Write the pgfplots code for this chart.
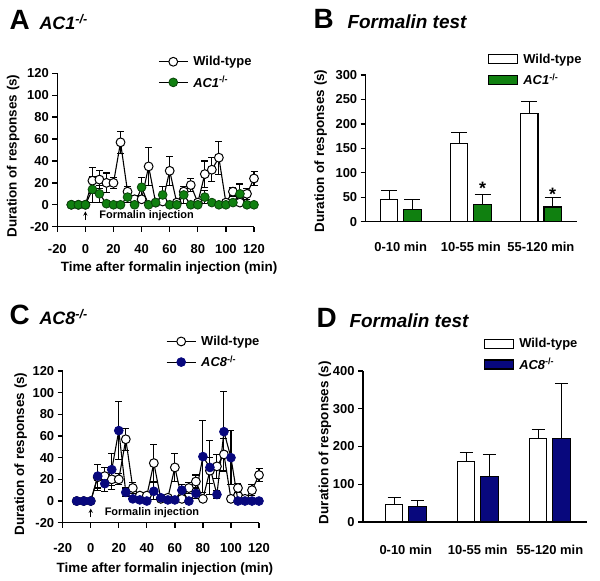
\documentclass[border=0pt]{standalone}
\usepackage{pgfplots}
\usepackage{pgfplotstable}
\pgfplotsset{compat=1.18}
\usepackage{fontspec}
\setmainfont{Liberation Sans}

\definecolor{acgreen}{RGB}{16,128,16}
\definecolor{acgreendk}{RGB}{10,70,10}
\definecolor{acblue}{RGB}{8,8,125}

\newcommand{\ko}{\textsuperscript{-/-}}

% time course, wild-type (shared by A and C)
\pgfplotstableread{
t y e
-10 0 0
-5 0 0
0 0 0
5 22 12
10 23 8
15 20 9
20 20 5
25 57 10
30 12 5
35 5 3
40 5 3
45 35 17
50 2 2
55 3 2
60 31 13
65 2 2
70 12 5
75 18 6
80 2 2
85 28 12
90 32 11
95 43 15
100 2 2
105 12 4
110 2 2
115 10 5
120 24 6
}\wtdata

\pgfplotstableread{
t y e
-10 0 0
-5 0 0
0 0 0
5 14 12
10 10 8
15 1 1
20 0 0
25 0 0
30 7 5
35 0 0
40 16 9
45 0 0
50 2 2
55 9 8
60 0 0
65 0 0
70 9 8
75 0 0
80 0 0
85 7 6
90 2 2
95 0 0
100 0 0
105 2 3
110 10 9
115 0 0
120 0 0
}\acone

\pgfplotstableread{
t y e
-10 0 0
-5 0 0
0 0 0
5 23 11
10 16 7
15 29 15
20 65 27
25 8 4
30 2 2
35 1 1
40 0 0
45 9 8
50 3 2
55 1 1
60 1 1
65 10 5
70 0 0
75 7 5
80 41 33
85 31 25
90 6 4
95 64 37
100 40 25
105 0 0
110 0 0
115 0 0
120 0 0
}\aceight

% bars: group, WT mean, WT sem, KO mean, KO sem
\pgfplotstableread{
g wt wte ko koe
0 46 17 25 21
1 159 24 36 20
2 221 24 30 19
}\bardataB

\pgfplotstableread{
g wt wte ko koe
0 46 19 40 16
1 160 23 120 58
2 222 24 222 144
}\bardataD

\pgfplotsset{
  prism/.style={
    scale only axis,
    axis x line=bottom, axis y line=left,
    axis line style={-, line width=1.5pt},
    tick align=outside, major tick length=5bp,
    tick style={line width=1.3pt, black},
    /pgf/number format/assume math mode=true,
    tick label style={font=\fontsize{13}{15}\selectfont\bfseries},
    label style={font=\fontsize{13.5}{15}\selectfont\bfseries},
    clip=false,
    legend cell align=left,
    legend style={draw=none, fill=none, inner sep=0pt,
      font=\fontsize{13}{15}\selectfont\bfseries, row sep=5bp, column sep=3bp},
  },
  timeaxis/.style={prism,
    xmin=-20, xmax=120, ymin=-20, ymax=120,
    xtick={-20,0,...,120}, ytick={-20,0,...,120},
    legend image code/.code={\draw[mark repeat=2,mark phase=2,##1]
      plot coordinates {(0bp,0bp) (14.5bp,0bp) (29bp,0bp)};},
  },
  baraxis/.style={prism,
    ybar=6bp, bar width=17.3bp,
    xtick=data, xtick style={draw=none},
    xticklabels={0-10 min, 10-55 min, 55-120 min},
    ymin=0,
  },
  barlegend/.style={legend image code/.code={\draw[##1] (0bp,-4.5bp) rectangle (29bp,4.5bp);}},
  line/.style={black, line width=1.1pt, mark=*, mark size=4.4bp,
    error bars/y dir=both, error bars/y explicit,
    error bars/error bar style={line width=1.1pt, black},
    error bars/error mark options={rotate=90, mark size=3.5bp, line width=1.1pt, black}},
  bar/.style={draw=black, line width=1.1pt, barlegend,
    error bars/y dir=plus, error bars/y explicit,
    error bars/error bar style={line width=1.1pt, black},
    error bars/error mark options={rotate=90, mark size=#1, line width=1.1pt, black}},
}

\begin{document}
\begin{tikzpicture}
\useasboundingbox (0,0) rectangle (600bp,581bp);

% panel titles
\node[anchor=base west, font=\fontsize{28}{30}\selectfont\bfseries] at (6bp,551.7bp) {A};
\node[anchor=base west, font=\fontsize{18}{20}\selectfont\bfseries\itshape] at (36bp,551.7bp) {AC1\ko};
\node[anchor=base west, font=\fontsize{28}{30}\selectfont\bfseries] at (310bp,552.7bp) {B};
\node[anchor=base west, font=\fontsize{19}{21}\selectfont\bfseries\itshape] at (344bp,552.7bp) {Formalin test};
\node[anchor=base west, font=\fontsize{28}{30}\selectfont\bfseries] at (6bp,256bp) {C};
\node[anchor=base west, font=\fontsize{18}{20}\selectfont\bfseries\itshape] at (36bp,256bp) {AC8\ko};
\node[anchor=base west, font=\fontsize{28}{30}\selectfont\bfseries] at (313bp,253bp) {D};
\node[anchor=base west, font=\fontsize{19}{21}\selectfont\bfseries\itshape] at (346bp,253bp) {Formalin test};

% A
\begin{axis}[timeaxis, at={(57.3bp,354.3bp)}, anchor=south west,
  width=196.7bp, height=153.4bp,
  xticklabel style={yshift=-9bp},
  xlabel={Time after formalin injection (min)},
  ylabel={Duration of responses (s)},
  xlabel style={at={(axis description cs:0.568,-0.267)}, anchor=center},
  ylabel style={at={(axis description cs:-0.224,0.461)}, anchor=center},
  legend style={at={(axis description cs:0.512,1.125)}, anchor=north west}]
\addplot[line, mark options={fill=white, draw=black, line width=1pt}]
  table[x=t, y=y, y error=e] {\wtdata};
\addlegendentry{Wild-type}
\addplot[line, mark options={fill=acgreen, draw=acgreendk, line width=0.8pt}]
  table[x=t, y=y, y error=e] {\acone};
\addlegendentry{\textit{AC1}\ko}
\draw[-stealth, line width=0.9pt] (axis cs:0,-14) -- (axis cs:0,-6);
\node[anchor=west, font=\fontsize{11}{12}\selectfont\bfseries] at (axis cs:7.5,-10) {Formalin injection};
\end{axis}

% B
\begin{axis}[baraxis, at={(365.7bp,359.3bp)}, anchor=south west,
  width=211bp, height=146.7bp,
  xmin=-0.5, xmax=2.51, ymax=300, ytick={0,50,...,300},
  xticklabel style={yshift=-12bp},
  ylabel={Duration of responses (s)},
  ylabel style={at={(axis description cs:-0.213,0.482)}, anchor=center},
  legend style={at={(axis description cs:0.58,1.16)}, anchor=north west}]
\addplot[bar=8bp, fill=white] table[x=g, y=wt, y error=wte] {\bardataB};
\addlegendentry{Wild-type}
\addplot[bar=8bp, fill=acgreen] table[x=g, y=ko, y error=koe] {\bardataB};
\addlegendentry{\textit{AC1}\ko}
\node[font=\fontsize{18}{18}\selectfont\bfseries, xshift=11.65bp, yshift=-4bp] at (axis cs:1,77) {*};
\node[font=\fontsize{18}{18}\selectfont\bfseries, xshift=11.65bp, yshift=-4bp] at (axis cs:2,65) {*};
\end{axis}

% C
\begin{axis}[timeaxis, at={(62.7bp,58.3bp)}, anchor=south west,
  width=196.3bp, height=151.7bp,
  xticklabel style={yshift=-12bp},
  xlabel={Time after formalin injection (min)},
  ylabel={Duration of responses (s)},
  xlabel style={at={(axis description cs:0.521,-0.307)}, anchor=center},
  ylabel style={at={(axis description cs:-0.214,0.453)}, anchor=center},
  legend style={at={(axis description cs:0.526,1.245)}, anchor=north west}]
\addplot[line, mark options={fill=white, draw=black, line width=1pt}]
  table[x=t, y=y, y error=e] {\wtdata};
\addlegendentry{Wild-type}
\addplot[line, mark options={fill=acblue, draw=acblue, line width=0.8pt}]
  table[x=t, y=y, y error=e] {\aceight};
\addlegendentry{\textit{AC8}\ko}
\draw[-stealth, line width=0.9pt] (axis cs:0,-15) -- (axis cs:0,-7);
\node[anchor=west, font=\fontsize{11}{12}\selectfont\bfseries] at (axis cs:7.5,-11) {Formalin injection};
\end{axis}

% D
\begin{axis}[baraxis, at={(363bp,59bp)}, anchor=south west,
  width=224bp, height=151bp,
  xmin=-0.594, xmax=2.517, ymax=400, ytick={0,100,...,400},
  xticklabel style={yshift=-15bp},
  ylabel={Duration of responses (s)},
  ylabel style={at={(axis description cs:-0.17,0.526)}, anchor=center},
  legend style={at={(axis description cs:0.54,1.23)}, anchor=north west}]
\addplot[bar=6.5bp, fill=white] table[x=g, y=wt, y error=wte] {\bardataD};
\addlegendentry{Wild-type}
\addplot[bar=6.5bp, fill=acblue] table[x=g, y=ko, y error=koe] {\bardataD};
\addlegendentry{\textit{AC8}\ko}
\end{axis}
\end{tikzpicture}
\end{document}
